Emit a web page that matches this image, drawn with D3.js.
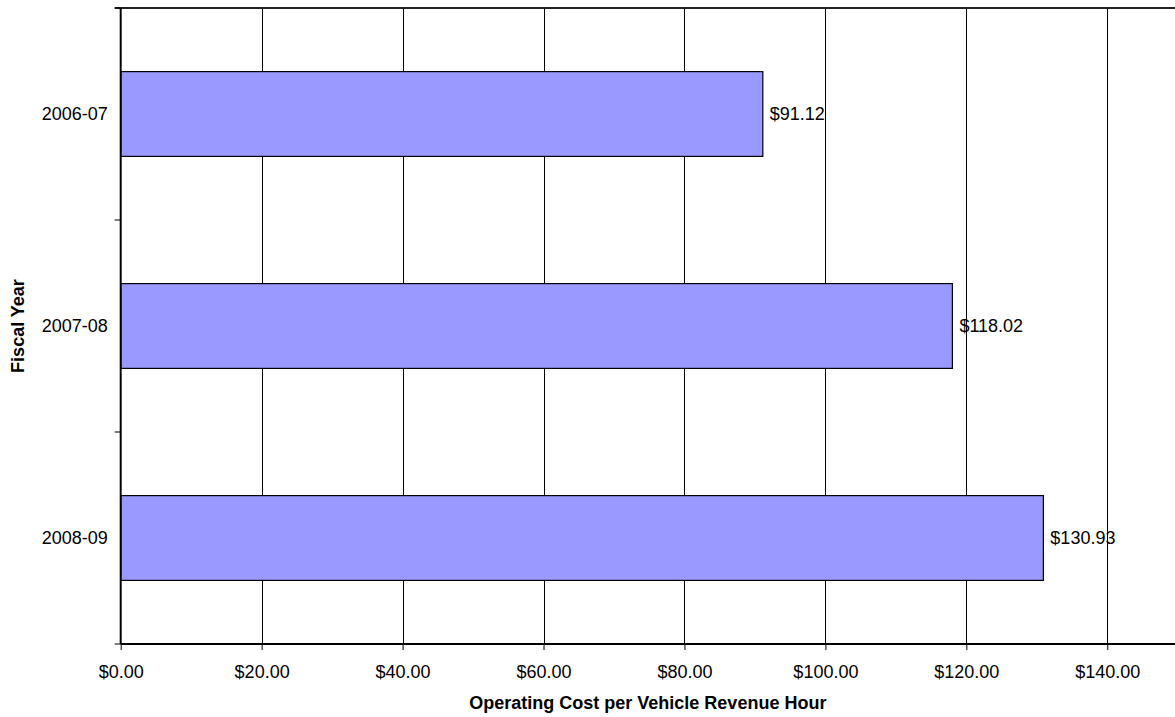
<!DOCTYPE html>
<html>
<head>
<meta charset="utf-8">
<script src="https://cdn.jsdelivr.net/npm/d3@7"></script>
<style>
  html, body { margin: 0; padding: 0; background: #fff; }
  svg { display: block; font-family: "Liberation Sans", Arial, sans-serif; }
</style>
</head>
<body>
<svg id="chart" width="1175" height="717"></svg>
<script>
const categories = ["2006-07", "2007-08", "2008-09"];
const values = [91.12, 118.02, 130.93];
const xTicks = [0, 20, 40, 60, 80, 100, 120, 140];
const xTitle = "Operating Cost per Vehicle Revenue Hour";
const yTitle = "Fiscal Year";

(function () {
const W = 1175, H = 717;
const mLeft = 120.7, mTop = 8, mBottom = 644;
const xMax = 160;
const svg = d3.select("#chart");

const x = d3.scaleLinear().domain([0, xMax]).range([mLeft, mLeft + 160 * 7.047]);
const y = d3.scaleBand().domain(categories).range([mTop, mBottom]).paddingInner(0.6).paddingOuter(0.3);

const fmt = v => "$" + d3.format(",.2f")(v);

// gridlines
svg.append("g").selectAll("line").data(xTicks.filter(d => d > 0)).join("line")
  .attr("x1", d => Math.round(x(d)) + 0.5).attr("x2", d => Math.round(x(d)) + 0.5)
  .attr("y1", mTop).attr("y2", mBottom)
  .attr("stroke", "#000").attr("stroke-width", 1);

// top border
svg.append("line").attr("x1", mLeft - 6).attr("x2", W).attr("y1", mTop).attr("y2", mTop)
  .attr("stroke", "#222").attr("stroke-width", 2);

// bars
svg.append("g").selectAll("rect").data(categories).join("rect")
  .attr("x", x(0))
  .attr("y", d => y(d))
  .attr("width", (d, i) => x(values[i]) - x(0))
  .attr("height", y.bandwidth())
  .attr("fill", "#9999FF")
  .attr("stroke", "#000").attr("stroke-width", 1.2);

// value labels
svg.append("g").selectAll("text").data(categories).join("text")
  .attr("x", (d, i) => x(values[i]) + 7)
  .attr("y", d => y(d) + y.bandwidth() / 2)
  .attr("dy", "0.35em")
  .attr("font-size", 18)
  .attr("fill", "#000")
  .text((d, i) => fmt(values[i]));

// x axis
const xAxis = d3.axisBottom(x).tickValues(xTicks).tickSize(6).tickSizeOuter(0).tickFormat(fmt);
const gx = svg.append("g").attr("transform", `translate(0,${mBottom})`).call(xAxis);
gx.select(".domain").attr("stroke", "#000").attr("stroke-width", 2).attr("d", `M${mLeft},0H${W}`);
gx.selectAll(".tick line").attr("stroke", "#000");
gx.selectAll(".tick text").attr("font-size", 18).attr("font-family", "Liberation Sans, Arial, sans-serif")
  .attr("fill", "#000").attr("y", 34).attr("dy", null);

// y axis
const gy = svg.append("g").attr("transform", `translate(${mLeft},0)`)
  .call(d3.axisLeft(y).tickSize(0).tickPadding(13).tickSizeOuter(0));
gy.select(".domain").attr("stroke", "#000").attr("stroke-width", 2).attr("d", `M0,${mTop}V${mBottom}`);
gy.selectAll(".tick text").attr("font-size", 18).attr("font-family", "Liberation Sans, Arial, sans-serif").attr("fill", "#000");

// category boundary ticks
const edges = [mTop].concat(categories.map((c, i) => mTop + y.step() * (i + 1)));
svg.append("g").selectAll("line").data(edges).join("line")
  .attr("x1", mLeft - 6).attr("x2", mLeft)
  .attr("y1", d => d).attr("y2", d => d)
  .attr("stroke", "#000").attr("stroke-width", 1);

// axis titles
svg.append("text")
  .attr("x", (mLeft + W) / 2).attr("y", 709)
  .attr("text-anchor", "middle").attr("font-size", 18).attr("font-weight", "bold")
  .text(xTitle);

svg.append("text")
  .attr("transform", `translate(24,${(mTop + mBottom) / 2}) rotate(-90)`)
  .attr("text-anchor", "middle").attr("font-size", 18).attr("font-weight", "bold")
  .text(yTitle);
})();
</script>
</body>
</html>
